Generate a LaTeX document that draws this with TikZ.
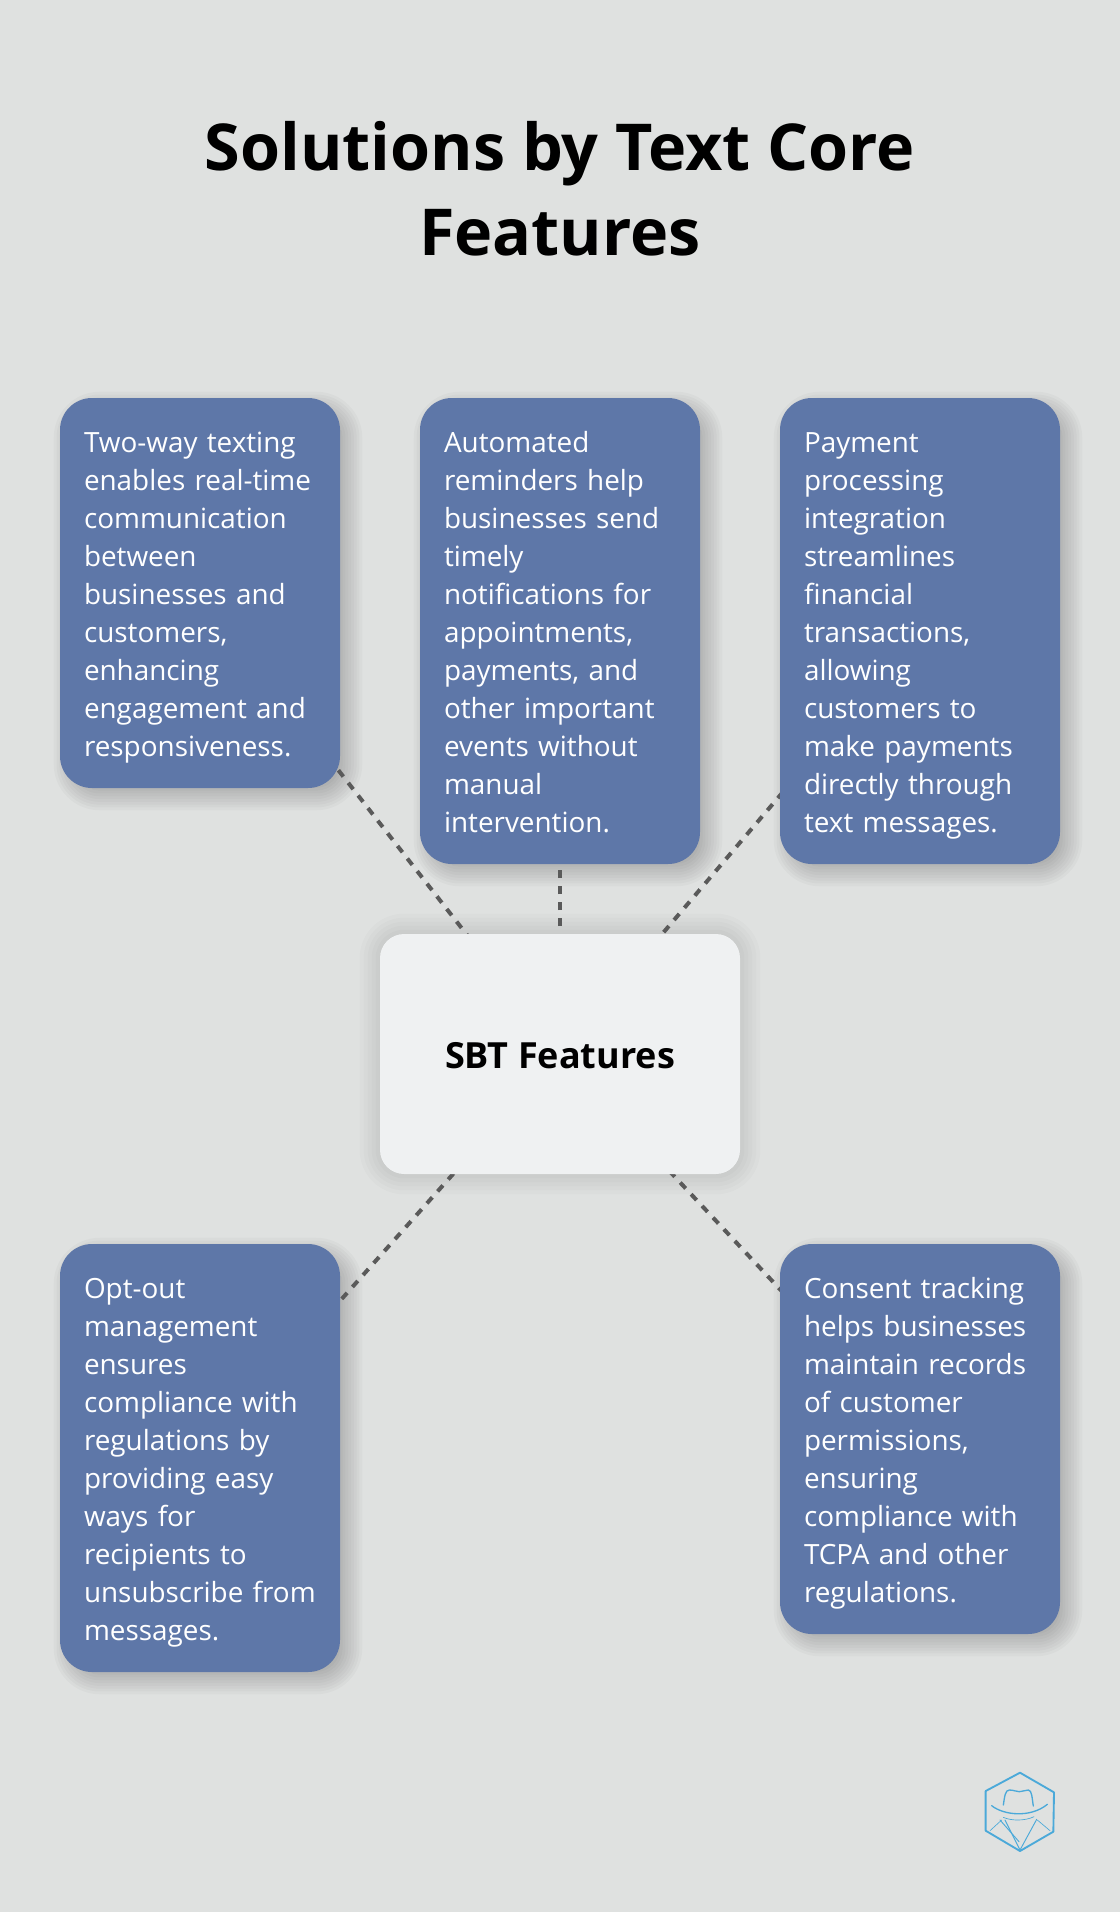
\documentclass[tikz,border=0pt]{standalone}
\usepackage{fontspec}
\setmainfont{Open Sans}
\usepackage{xcolor}
\usetikzlibrary{backgrounds, calc}
\definecolor{pagebg}{HTML}{DFE1E0}
\definecolor{cardblue}{HTML}{5E77A8}
\definecolor{hubwhite}{HTML}{EFF1F2}
\definecolor{dashgray}{HTML}{5A5A5A}
\definecolor{logoblue}{HTML}{4BA9D9}

% node, xshift, yshift, spread, corner (pt), opacity of one layer
\newcommand{\softshadow}[6]{
    \foreach \s in {-1,-0.8,...,1.01}
        \fill[black, opacity=#6, rounded corners={max(#5+\s*#4*0.75,1)*1pt}]
            ($(#1.north west)+({#2-\s*#4},{#3-\s*#4})$) rectangle ($(#1.south east)+({#2+\s*#4},{#3+\s*#4})$);
}

\begin{document}
\begin{tikzpicture}[
        x=0.75pt, y=-0.75pt,
        card/.style={fill=cardblue, text=white, rounded corners=24pt, minimum width=210pt,
            text width=174pt, inner sep=0pt, align=left,
            font=\fontsize{20.9pt}{28.5pt}\selectfont,
            execute at begin node={\rule{0pt}{23.1pt}},
            execute at end node={\rule[-5.4pt]{0pt}{5.4pt}}},
        hub/.style={fill=hubwhite, rounded corners=18pt, minimum width=270pt, minimum height=180pt,
            font=\fontsize{27pt}{30pt}\selectfont\bfseries,
            execute at begin node={\rule{0pt}{22pt}}},
        link/.style={draw=dashgray, line width=3pt, dash pattern=on 6pt off 6pt},
        headline/.style={font=\fontsize{48.5pt}{64pt}\selectfont\bfseries, align=center},
        logoline/.style={draw=logoblue, line join=round, line cap=round}
    ]
    \useasboundingbox (0,0) rectangle (1120,1912);

    % Title
    \node[headline] (title) at (560,189) {Solutions by Text Core\\Features};

    % Top row
    \node[card, minimum height=292.5pt] (texting) at (200,593) {Two-way texting\\enables real-time\\communication\\between\\businesses and\\customers,\\enhancing\\engagement and\\responsiveness.};
    \node[card, minimum height=349.5pt] (reminders) at (560,631) {Automated\\reminders help\\businesses send\\timely\\notifications for\\appointments,\\payments, and\\other important\\events without\\manual\\intervention.};
    \node[card, minimum height=349.5pt] (payment) at (920,631) {Payment\\processing\\integration\\streamlines\\financial\\transactions,\\allowing\\customers to\\make payments\\directly through\\text messages.};

    % Centre
    \node[hub] (features) at (560,1054) {SBT Features};

    % Bottom row
    \node[card, minimum height=321pt] (optout) at (200,1458) {Opt-out\\management\\ensures\\compliance with\\regulations by\\providing easy\\ways for\\recipients to\\unsubscribe from\\messages.};
    \node[card, minimum height=292.5pt] (consent) at (920,1439) {Consent tracking\\helps businesses\\maintain records\\of customer\\permissions,\\ensuring\\compliance with\\TCPA and other\\regulations.};

    % Background, shadows and dashed links
    \begin{scope}[on background layer]
        \fill[pagebg] (0,0) rectangle (1120,1912);
        \foreach \target in {texting, reminders, payment, optout, consent}
            \softshadow{\target}{8}{8}{14}{24}{0.024};
        \softshadow{features}{0}{0}{20}{18}{0.016};
        \foreach \target in {texting, reminders, payment, optout, consent}
            \draw[link] (features.center) -- (\target.center);
    \end{scope}

    % Logo
    \begin{scope}[shift={(940,1740)}, x=0.25pt, y=-0.25pt]
        \draw[logoline, line width=1.4pt] (240,98) -- (342,157) -- (340,275) -- (240,333) -- (137,272) -- (137,153) -- cycle;
        \draw[logoline, line width=1pt] (190,195) .. controls (194,170) and (195,150) .. (208,150)
            .. controls (222,150) and (228,155) .. (238,155) .. controls (248,155) and (255,150) .. (265,150)
            .. controls (276,150) and (276,175) .. (280,198);
        \draw[logoline, line width=1pt] (155,197) .. controls (190,225) and (270,235) .. (322,193);
        \draw[logoline, line width=0.5pt] (190,232) .. controls (215,243) and (255,243) .. (282,230);
        \draw[logoline, line width=0.7pt] (195,240) -- (240,330) -- (290,238);
        \draw[logoline, line width=0.7pt] (180,240) -- (237,305);
        \draw[logoline, line width=0.5pt] (150,272) -- (185,240);
        \draw[logoline, line width=0.5pt] (292,240) -- (330,272);
    \end{scope}
\end{tikzpicture}
\end{document}
